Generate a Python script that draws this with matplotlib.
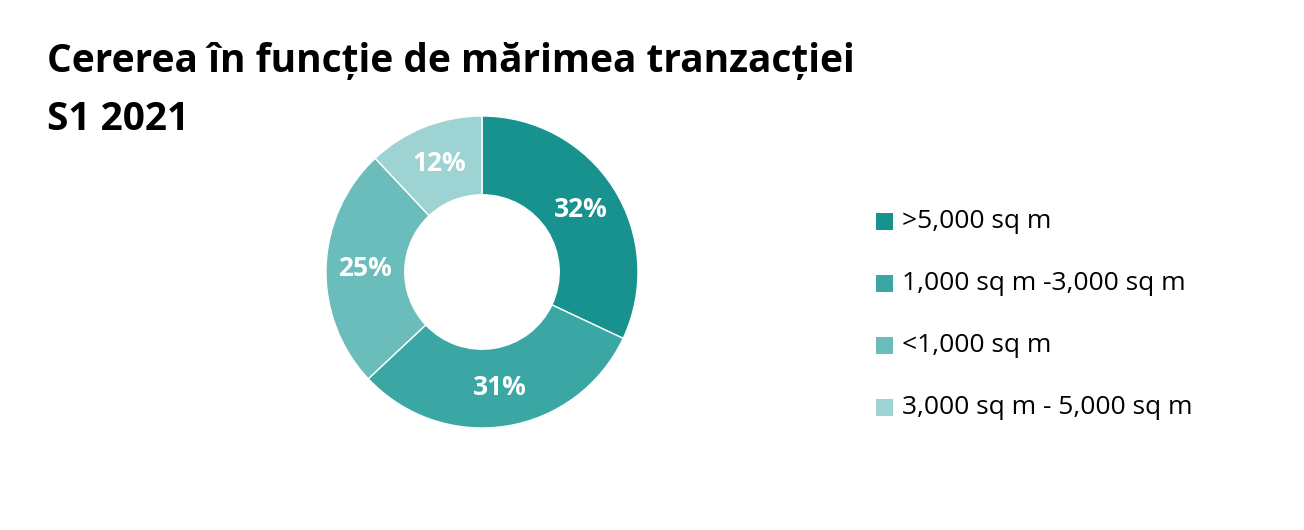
import matplotlib
matplotlib.use("Agg")
import matplotlib.pyplot as plt
from matplotlib.patches import Rectangle
import numpy as np

labels = [">5,000 sq m", "1,000 sq m -3,000 sq m", "<1,000 sq m", "3,000 sq m - 5,000 sq m"]
values = [32, 31, 25, 12]
colors = ["#17928F", "#3BA7A4", "#6BBDBB", "#9DD3D2"]

plt.rcParams['font.family'] = ['Open Sans', 'DejaVu Sans']
fig = plt.figure(figsize=(13.04, 5.30), dpi=100)
ax = fig.add_axes([326/1304, 102/530, 312/1304, 312/530])
wedges, texts = ax.pie(values, colors=colors, startangle=90, counterclock=False,
                       radius=1, wedgeprops=dict(width=0.505, edgecolor='white', linewidth=1))
ang = 90.0
for v, w in zip(values, wedges):
    mid = np.deg2rad(ang - v / 100 * 360 / 2)
    ang -= v / 100 * 360
    r = 0.75
    ax.text(r*np.cos(mid), r*np.sin(mid), f"{v}%", ha='center', va='center',
            color='white', fontsize=19, fontweight='bold')
ax.set_xlim(-1, 1); ax.set_ylim(-1, 1); ax.set_aspect('equal'); ax.axis('off')

fig.text(47/1304, 1-62/530, "Cererea în funcție de mărimea tranzacției", fontsize=28,
         fontweight='bold', va='center', ha='left')
fig.text(47/1304, 1-120/530, "S1 2021", fontsize=28, fontweight='bold', va='center', ha='left')

ys = [222, 284, 346, 408]
for lab, c, y in zip(labels, colors, ys):
    fig.patches.append(Rectangle((876/1304, 1-(y+8)/530), 17/1304, 17/530,
                                 transform=fig.transFigure, facecolor=c, edgecolor='none'))
    fig.text(902/1304, 1-y/530, lab, fontsize=19, va='center', ha='left')

fig.savefig("out.png", dpi=100, facecolor='white')
